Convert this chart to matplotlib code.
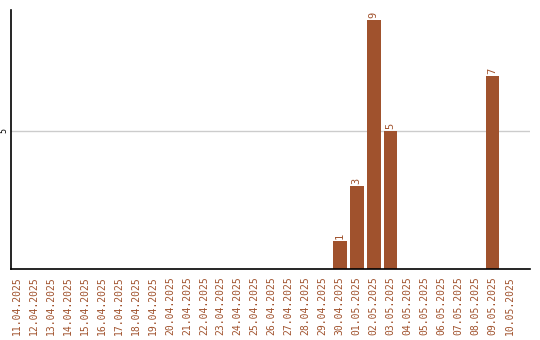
import matplotlib
matplotlib.use("Agg")
import matplotlib.pyplot as plt
import pandas as pd

DATES = [d.strftime("%d.%m.%Y") for d in pd.date_range("2025-04-11", "2025-05-10")]
COUNTS = [0] * len(DATES)
VALUES = {"30.04.2025": 1, "01.05.2025": 3, "02.05.2025": 9, "03.05.2025": 5, "09.05.2025": 7}
for day, value in VALUES.items():
    COUNTS[DATES.index(day)] = value

BAR_COLOR = "#a0522d"

fig = plt.figure(figsize=(5.4, 3.4), dpi=100)
ax = fig.add_axes([11 / 540, 71 / 340, 519 / 540, 259 / 340])

xs = list(range(len(DATES)))
for x, value in zip(xs, COUNTS):
    if value > 0:
        ax.bar(x, value, width=0.8, color=BAR_COLOR, zorder=2)
        ax.text(x, value + 0.08, str(value), rotation=90, ha="center", va="bottom",
                color=BAR_COLOR, fontsize=7.5, family="DejaVu Sans Mono")

ax.set_xlim(-0.35, 30.2)
ax.set_ylim(0, 9.38)
ax.set_yticks([5])
ax.set_yticklabels(["5"], rotation=90, va="center", fontsize=6, family="DejaVu Sans Mono")
ax.set_xticks(xs)
ax.set_xticklabels(DATES, rotation=90, fontsize=7, family="DejaVu Sans Mono", color=BAR_COLOR)
ax.tick_params(axis="x", length=0, pad=5)
ax.tick_params(axis="y", length=0, pad=2)
ax.grid(axis="y", color="#cccccc", linewidth=1, zorder=0)

for side in ["top", "right"]:
    ax.spines[side].set_visible(False)
for side in ["left", "bottom"]:
    ax.spines[side].set_linewidth(1.2)

fig.savefig("out.png", dpi=100)
